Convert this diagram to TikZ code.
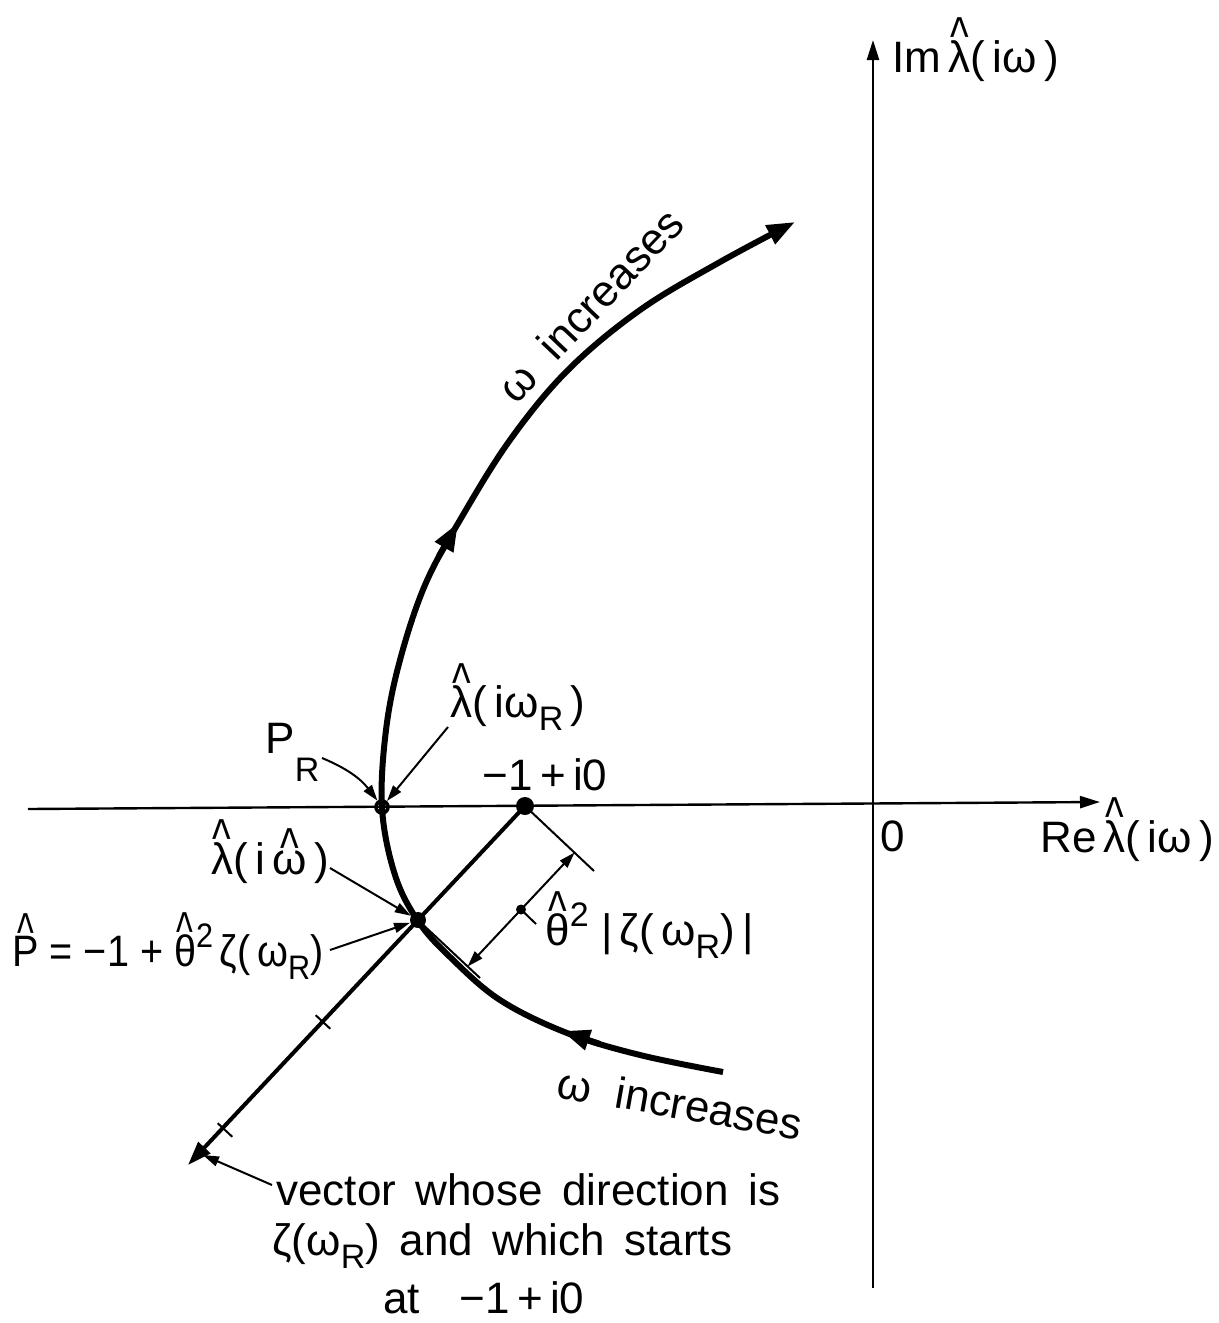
\documentclass[tikz,border=0pt]{standalone}
\usepackage{fontspec}
\setmainfont{Liberation Sans}
\usetikzlibrary{arrows.meta}
\newcommand\hatt[1]{\leavevmode\setbox0=\hbox{#1}\rlap{\hbox to \wd0{\hss\raisebox{\dimexpr\ht0-0.34em\relax}{\scalebox{0.9}[1.25]{\char"5E}}\hss}}\box0\relax}
\newcommand\lamh{\hatt{λ}}
\newcommand\subR{\raisebox{-0.55ex}{\fontsize{17}{17}\selectfont R}}
\newcommand\lowR{\raisebox{-1.2ex}{\fontsize{17}{17}\selectfont R}}
\newcommand\supTwo{\raisebox{0.85ex}{\fontsize{17}{17}\selectfont 2}}
\begin{document}
\begin{tikzpicture}[x=0.5pt,y=0.5pt,
  axis/.style={line width=1.2pt,-{Triangle[length=10pt,width=6pt]}},
  curve/.style={line width=3pt},
  vec/.style={line width=2pt},
  thinline/.style={line width=1pt},
  lead/.style={line width=1pt,-{Triangle[length=8pt,width=5pt]}},
  lbl/.style={font=\fontsize{22}{26}\selectfont,inner sep=0pt},
  dot/.style={circle,fill,inner sep=0pt},
  ring/.style={circle,draw,line width=1.8pt,inner sep=0pt,minimum size=6pt}]
\useasboundingbox (0,0) rectangle (1219,-1323);
% axes
\coordinate (xl) at (28,-809);
\coordinate (xr) at (1100,-802);
\coordinate (yb) at (873,-1288);
\coordinate (yt) at (873,-40);
\draw[axis] (xl) -- (xr);
\draw[axis] (yb) -- (yt);
% curve
\draw[curve,-{Triangle[length=14pt,width=10pt]}] plot[smooth,tension=0.6] coordinates {(723,-1072) (640,-1055) (567,-1033) (500,-1000) (450,-957) (418,-921) (395,-875) (382,-808) (386,-730) (400,-660) (425,-585) (460,-520) (510,-440) (568,-370) (640,-310) (720,-262) (795,-222)};
\draw[curve,-{Triangle[length=14pt,width=10pt]}] (439,-556) -- (458,-523);
\draw[curve,-{Triangle[length=14pt,width=10pt]}] (600,-1044) -- (562,-1031);
% points
\node[dot,minimum size=9pt] (m1) at (525,-806) {};
\node[dot,minimum size=8pt] (ph) at (418,-920) {};
\node[ring] (pr) at (382,-807) {};
% vector
\coordinate (vt) at (188,-1165);
\draw[vec,-{Triangle[length=12pt,width=8pt]}] (m1.center) -- (vt);
\draw[thinline] (315.7,-1015.2) -- (330.3,-1028.8);
\draw[thinline] (217.7,-1123.2) -- (232.3,-1136.8);
% dimension
\coordinate (e1) at (594,-871);
\coordinate (e2) at (480,-978);
\draw[thinline] (m1.center) -- (e1);
\draw[thinline] (ph.center) -- (e2);
\coordinate (da) at (574.6,-852.5);
\coordinate (db) at (467.6,-966.5);
\draw[thinline,{Triangle[length=8pt,width=5pt]}-{Triangle[length=8pt,width=5pt]}] (db) -- (da);
\node[dot,minimum size=5pt] (mid) at (521,-909.5) {};
\coordinate (midt) at (536,-924);
\draw[thinline] (mid.center) -- (midt);
% labels
\node[lbl,anchor=west] (imlab) at (892,-50) {Im\,\lamh(\,iω\,)};
\node[lbl,anchor=west] (relab) at (1040,-830) {Re\,\lamh(\,iω\,)};
\node[lbl] (zero) at (893,-836) {0};
\node[lbl] (mlab) at (545,-775) {−1\,+\,i0};
\node[lbl] (lrlab) at (518,-697) {\lamh(\,iω\subR\,)};
\node[lbl,anchor=west] (prlab) at (265,-752) {P\lowR};
\node[lbl] (lhlab) at (270,-852) {\lamh(\,i\,\hatt{ω}\,)};
\node[lbl,anchor=west] (phlab) at (12,-946) {\scalebox{0.9}[1]{\hatt{P} = −1 + \hatt{θ}\supTwo\,ζ(\,ω\subR)}};
\node[lbl,anchor=west] (dimlab) at (545,-925) {\hatt{θ}\supTwo\;|\,ζ(\,ω\subR)\,|};
\node[lbl,rotate=46.5] (up) at (590,-305) {ω\;\;increases};
\node[lbl,rotate=-10] (low) at (680,-1103) {ω\;\;increases};
\node[lbl,anchor=west] (v1) at (276,-1190) {vector\ \,whose\ \,direction\ \,is};
\node[lbl,anchor=west] (v2) at (272,-1246) {ζ(ω\subR)\ \,and\ \,which\ \,starts};
\node[lbl,anchor=west] (v3) at (383,-1298) {at\hspace{0.9em}−1\,+\,i0};
% leaders
\coordinate (prs) at (322,-758);
\coordinate (lrs) at (448,-727);
\coordinate (lhs) at (330,-868);
\coordinate (phs) at (330,-950);
\coordinate (vs) at (272,-1185);
\coordinate (ve) at (203,-1155);
\draw[lead] (prs) to[bend left=15] (pr);
\draw[lead] (lrs) -- (pr);
\draw[lead] (lhs) -- (ph);
\draw[lead] (phs) -- (ph);
\draw[lead] (vs) -- (ve);
\end{tikzpicture}
\end{document}
